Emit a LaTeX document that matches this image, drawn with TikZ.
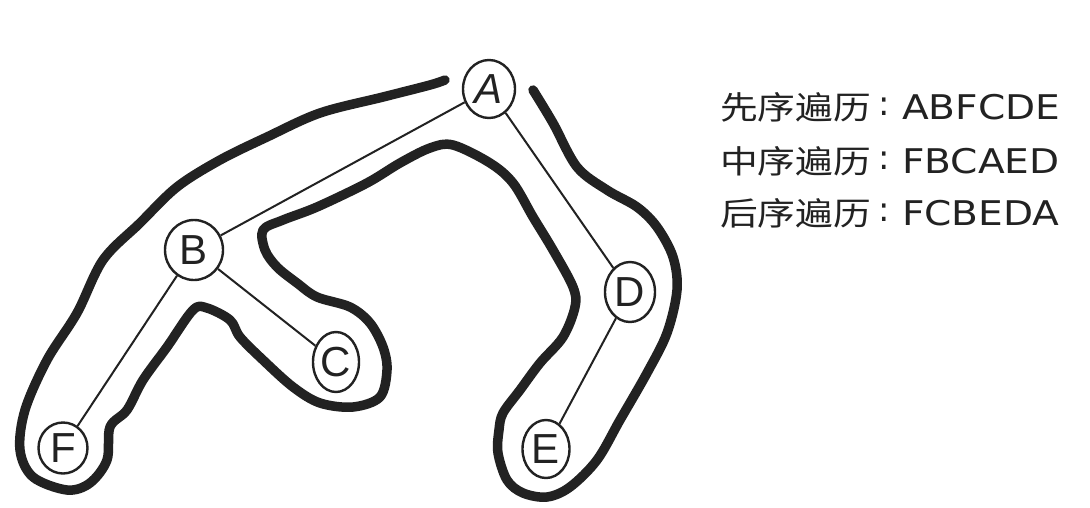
\documentclass[tikz,border=0pt]{standalone}
\usepackage{fontspec}
\usetikzlibrary{shapes.geometric}
\newfontfamily\cjkfont{Noto Sans CJK SC}
\newfontfamily\letterfont{Liberation Sans}
\newfontfamily\latinfont{DejaVu Sans}
\definecolor{ink}{HTML}{222222}
\tikzset{
  tnode/.style={draw=ink, ellipse, line width=2.4pt, inner sep=0pt, text=ink,
    font=\letterfont\fontsize{42}{42}\selectfont},
  edge/.style={draw=ink, line width=2pt},
  outline/.style={draw=ink, line width=9.5pt, line cap=round, line join=round},
  trav/.style={anchor=west, text=ink, inner sep=0pt, font=\cjkfont\fontsize{32}{32}\selectfont},
  travlat/.style={anchor=west, text=ink, inner sep=0pt, font=\latinfont\fontsize{34}{34}\selectfont}
}
\begin{document}
\begin{tikzpicture}[x=1pt,y=-1pt]
\useasboundingbox (0,0) rectangle (1090,507);
\fill[white] (0,0) rectangle (1090,507);
% nodes
\node[tnode, minimum width=52pt, minimum height=58pt] (A) at (489,89) {\textit{A}};
\node[tnode, minimum width=58pt, minimum height=60pt] (B) at (194,250) {B};
\node[tnode, minimum width=46pt, minimum height=60pt] (C) at (336,362) {C};
\node[tnode, minimum width=49pt, minimum height=51pt] (F) at (63,448) {F};
\node[tnode, minimum width=50pt, minimum height=60pt] (D) at (630,292) {D};
\node[tnode, minimum width=47pt, minimum height=58pt] (E) at (546,449) {E};
% edges
\draw[edge] (A) -- (B);
\draw[edge] (A) -- (D);
\draw[edge] (B) -- (F);
\draw[edge] (B) -- (C);
\draw[edge] (D) -- (E);
% thick traversal outline
\draw[outline] plot[smooth, tension=0.55] coordinates {
 (445,80) (430,85) (383,97) (320,113) (267,137) (220,160) (177,187) (140,223)
 (103,260) (77,313) (47,360) (25,410) (20,450) (33,477) (67,490) (90,483)
 (107,460) (110,427) (127,410) (143,380) (167,347) (193,310) (207,308) (230,320)
 (240,337) (263,360) (293,387) (320,403) (353,407) (380,397) (387,370) (383,347)
 (370,323) (350,307) (317,297) (297,283) (277,267) (265,250) (263,230) (283,220)
 (317,207) (367,183) (400,163) (430,148) (453,145) (490,163) (513,183) (533,217)
 (553,250) (573,287) (575,307) (563,337) (540,363) (520,390) (503,413) (499,430)
 (498,453) (507,480) (523,493) (547,497) (570,487) (597,460) (620,420) (647,373)
 (667,333) (677,290) (673,257) (657,227) (637,207) (607,190) (577,167) (553,123)
 (533,90)};
% traversal texts
\node[trav] (t1) at (720,107) {\scalebox{1.18}[1]{先序遍历}};
\node[travlat] (c1) at (878,107) {:};
\node[travlat] (l1) at (902,107) {\scalebox{1.15}[1]{ABFCDE}};
\node[trav] (t2) at (720,161) {\scalebox{1.18}[1]{中序遍历}};
\node[travlat] (c2) at (878,161) {:};
\node[travlat] (l2) at (902,161) {\scalebox{1.15}[1]{FBCAED}};
\node[trav] (t3) at (720,213) {\scalebox{1.18}[1]{后序遍历}};
\node[travlat] (c3) at (878,213) {:};
\node[travlat] (l3) at (902,213) {\scalebox{1.15}[1]{FCBEDA}};
\end{tikzpicture}
\end{document}
